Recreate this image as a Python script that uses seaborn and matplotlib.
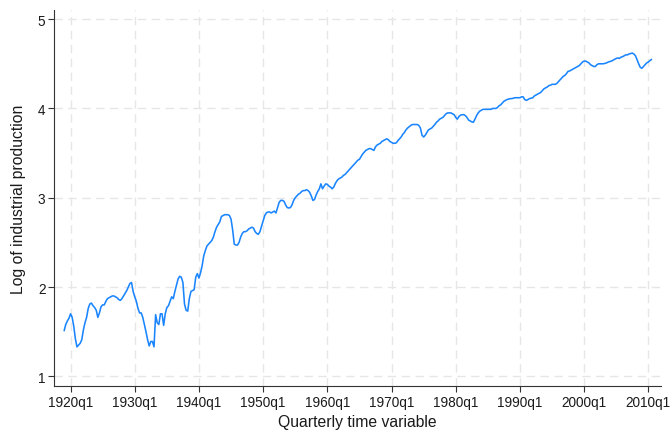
import numpy as np
import pandas as pd
import matplotlib
matplotlib.use("Agg")
import matplotlib.pyplot as plt
import seaborn as sns

# Log of industrial production, quarterly, 1919q1 - 2010q3
first_year = 1919
lip = [
    1.51, 1.58, 1.62, 1.65,    # 1919
    1.70, 1.66, 1.56, 1.42,    # 1920
    1.33, 1.35, 1.37, 1.41,    # 1921
    1.52, 1.60, 1.66, 1.76,    # 1922
    1.81, 1.82, 1.79, 1.77,    # 1923
    1.74, 1.66, 1.71, 1.78,    # 1924
    1.80, 1.80, 1.84, 1.87,    # 1925
    1.88, 1.89, 1.90, 1.90,    # 1926
    1.89, 1.88, 1.86, 1.85,    # 1927
    1.87, 1.90, 1.93, 1.96,    # 1928
    2.00, 2.04, 2.05, 1.95,    # 1929
    1.89, 1.84, 1.76, 1.71,    # 1930
    1.71, 1.66, 1.58, 1.50,    # 1931
    1.41, 1.34, 1.39, 1.39,    # 1932
    1.33, 1.69, 1.60, 1.58,    # 1933
    1.70, 1.70, 1.57, 1.70,    # 1934
    1.77, 1.79, 1.84, 1.89,    # 1935
    1.87, 1.95, 2.02, 2.09,    # 1936
    2.12, 2.11, 2.05, 1.81,    # 1937
    1.74, 1.73, 1.87, 1.95,    # 1938
    1.96, 1.97, 2.11, 2.15,    # 1939
    2.10, 2.16, 2.24, 2.35,    # 1940
    2.41, 2.46, 2.48, 2.50,    # 1941
    2.52, 2.56, 2.62, 2.67,    # 1942
    2.70, 2.73, 2.79, 2.80,    # 1943
    2.81, 2.81, 2.81, 2.80,    # 1944
    2.76, 2.64, 2.48, 2.47,    # 1945
    2.47, 2.50, 2.56, 2.60,    # 1946
    2.62, 2.62, 2.63, 2.65,    # 1947
    2.66, 2.67, 2.66, 2.62,    # 1948
    2.60, 2.59, 2.62, 2.68,    # 1949
    2.74, 2.80, 2.83, 2.84,    # 1950
    2.84, 2.83, 2.84, 2.85,    # 1951
    2.83, 2.89, 2.95, 2.97,    # 1952
    2.97, 2.96, 2.92, 2.89,    # 1953
    2.885, 2.89, 2.92, 2.97,   # 1954
    3.00, 3.02, 3.04, 3.05,    # 1955
    3.07, 3.08, 3.08, 3.09,    # 1956
    3.08, 3.06, 3.02, 2.97,    # 1957
    2.98, 3.03, 3.07, 3.10,    # 1958
    3.155, 3.10, 3.13, 3.155,  # 1959
    3.15, 3.13, 3.12, 3.10,    # 1960
    3.12, 3.16, 3.19, 3.21,    # 1961
    3.22, 3.23, 3.25, 3.26,    # 1962
    3.28, 3.30, 3.32, 3.34,    # 1963
    3.36, 3.38, 3.40, 3.42,    # 1964
    3.43, 3.46, 3.49, 3.51,    # 1965
    3.53, 3.54, 3.55, 3.55,    # 1966
    3.54, 3.53, 3.57, 3.59,    # 1967
    3.60, 3.61, 3.63, 3.64,    # 1968
    3.65, 3.66, 3.65, 3.63,    # 1969
    3.62, 3.61, 3.61, 3.615,   # 1970
    3.64, 3.66, 3.68, 3.71,    # 1971
    3.73, 3.76, 3.78, 3.795,   # 1972
    3.81, 3.82, 3.82, 3.82,    # 1973
    3.82, 3.81, 3.78, 3.70,    # 1974
    3.68, 3.70, 3.73, 3.76,    # 1975
    3.77, 3.78, 3.80, 3.82,    # 1976
    3.845, 3.86, 3.88, 3.89,   # 1977
    3.90, 3.92, 3.94, 3.95,    # 1978
    3.95, 3.95, 3.94, 3.93,    # 1979
    3.90, 3.88, 3.91, 3.925,   # 1980
    3.93, 3.93, 3.92, 3.90,    # 1981
    3.87, 3.86, 3.85, 3.845,   # 1982
    3.88, 3.92, 3.95, 3.97,    # 1983
    3.98, 3.99, 3.99, 3.99,    # 1984
    3.99, 3.99, 3.99, 4.00,    # 1985
    4.00, 4.00, 4.01, 4.03,    # 1986
    4.04, 4.06, 4.08, 4.09,    # 1987
    4.10, 4.105, 4.11, 4.11,   # 1988
    4.115, 4.12, 4.12, 4.12,   # 1989
    4.12, 4.13, 4.13, 4.10,    # 1990
    4.09, 4.10, 4.11, 4.115,   # 1991
    4.12, 4.14, 4.15, 4.16,    # 1992
    4.17, 4.18, 4.20, 4.22,    # 1993
    4.23, 4.24, 4.255, 4.26,   # 1994
    4.27, 4.27, 4.27, 4.28,    # 1995
    4.30, 4.32, 4.34, 4.36,    # 1996
    4.37, 4.39, 4.415, 4.42,   # 1997
    4.43, 4.44, 4.45, 4.46,    # 1998
    4.47, 4.48, 4.50, 4.52,    # 1999
    4.53, 4.53, 4.52, 4.51,    # 2000
    4.49, 4.48, 4.47, 4.47,    # 2001
    4.49, 4.50, 4.50, 4.50,    # 2002
    4.50, 4.505, 4.51, 4.52,   # 2003
    4.525, 4.53, 4.54, 4.55,   # 2004
    4.56, 4.565, 4.56, 4.575,  # 2005
    4.58, 4.59, 4.60, 4.60,    # 2006
    4.61, 4.615, 4.62, 4.61,   # 2007
    4.59, 4.545, 4.50, 4.46,   # 2008
    4.45, 4.47, 4.49, 4.51,    # 2009
    4.52, 4.535, 4.55,         # 2010
]

tick_years = [1920, 1930, 1940, 1950, 1960, 1970, 1980, 1990, 2000, 2010]
tick_labels = [f"{y}q1" for y in tick_years]
y_ticks = [1, 2, 3, 4, 5]

# quarterly index counted from 1960q1 = 0
def tq(year, quarter=1):
    return (year - 1960) * 4 + (quarter - 1)

t = tq(first_year) + np.arange(len(lip))
df = pd.DataFrame({"t": t, "lip": lip})

sns.set_theme(style="white")
plt.rcParams["font.family"] = ["Liberation Sans", "DejaVu Sans"]

fig = plt.figure(figsize=(6.72, 4.31), dpi=100)
ax = fig.add_axes([0.0804, 0.102, 0.9032, 0.873])

grid_kw = dict(color="#e6e6e6", linewidth=1.0, dashes=(6, 4), zorder=0)
for yv in y_ticks:
    ax.axhline(yv, **grid_kw)
for yr in tick_years:
    ax.axvline(tq(yr), **grid_kw)

sns.lineplot(data=df, x="t", y="lip", ax=ax, color="#1a85ff",
             linewidth=1.15, zorder=3)

ax.set_xlim(-170.3, 207.9)
ax.set_ylim(0.891, 5.105)
ax.set_xticks([tq(y) for y in tick_years])
ax.set_xticklabels(tick_labels)
ax.set_yticks(y_ticks)
ax.set_yticklabels([str(v) for v in y_ticks])

ax.set_xlabel("Quarterly time variable", fontsize=11.3, color="#1a1a1a", labelpad=4)
ax.set_ylabel("Log of industrial production", fontsize=11.3, color="#1a1a1a", labelpad=8.5)

ax.tick_params(axis="both", which="major", direction="out", length=4.2,
               width=0.8, color="#333333", labelsize=9.8, labelcolor="#1a1a1a",
               pad=2, bottom=True, left=True)
for side in ("top", "right"):
    ax.spines[side].set_visible(False)
for side in ("left", "bottom"):
    ax.spines[side].set_color("#333333")
    ax.spines[side].set_linewidth(0.8)

fig.savefig("out.png", dpi=100, facecolor="white")
